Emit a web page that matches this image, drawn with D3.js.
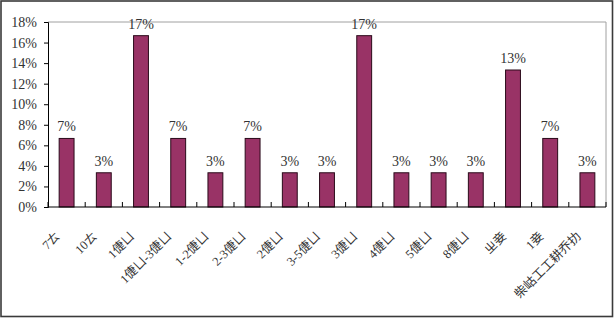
<!DOCTYPE html>
<html><head><meta charset="utf-8">
<script src="https://cdn.jsdelivr.net/npm/d3@7"></script>
<style>body{margin:0;background:#fff}svg{display:block}</style>
</head><body>
<script>
const categories = ["7ㄊ","10ㄊ","1倢ㄩ","1倢ㄩ-3倢ㄩ","1-2倢ㄩ","2-3倢ㄩ","2倢ㄩ","3-5倢ㄩ","3倢ㄩ","4倢ㄩ","5倢ㄩ","8倢ㄩ","ㄓ妾","1妾","柴岵工工耕乔扐"];
const values = [6.67,3.33,16.67,6.67,3.33,6.67,3.33,3.33,16.67,3.33,3.33,3.33,13.33,6.67,3.33];
const valueLabels = ["7%","3%","17%","7%","3%","7%","3%","3%","17%","3%","3%","3%","13%","7%","3%"];
const yTicks = [0,2,4,6,8,10,12,14,16,18];

const W = 614, H = 318;
const m = {left:48, right:8, top:22, bottom:111};
const serif = "Liberation Serif, DejaVu Serif, serif";
const svg = d3.select("body").append("svg").attr("width",W).attr("height",H);

svg.append("rect").attr("x",1).attr("y",1).attr("width",W-2.5).attr("height",H-2.5)
  .attr("fill","#fff").attr("stroke","#3a3a3a").attr("stroke-width",1.6);

const x = d3.scaleBand().domain(categories).range([m.left, W-m.right]).paddingInner(0.6).paddingOuter(0.3);
const y = d3.scaleLinear().domain([0,18]).range([H-m.bottom, m.top]);

svg.append("path").attr("d",`M${m.left},${m.top}H${W-m.right}V${H-m.bottom}`)
  .attr("fill","none").attr("stroke","#a0a0a0").attr("stroke-width",1);

svg.selectAll("rect.bar").data(values).join("rect").attr("class","bar")
  .attr("x",(d,i)=>x(categories[i])).attr("width",x.bandwidth())
  .attr("y",d=>y(d)).attr("height",d=>y(0)-y(d))
  .attr("fill","#993366").attr("stroke","#2a0a1a").attr("stroke-width",1);

svg.selectAll("text.vl").data(values).join("text").attr("class","vl")
  .attr("x",(d,i)=>x(categories[i])+x.bandwidth()/2).attr("y",d=>y(d)-7)
  .attr("text-anchor","middle").attr("font-family",serif).attr("font-size",14)
  .attr("fill","#333").text((d,i)=>valueLabels[i]);

const ya = svg.append("g").attr("transform",`translate(${m.left},0)`)
  .call(d3.axisLeft(y).tickValues(yTicks).tickSize(4).tickFormat(d=>d+"%"));
ya.select(".domain").attr("stroke","#000");
ya.selectAll("line").attr("stroke","#000");
ya.selectAll("text").attr("font-family",serif).attr("font-size",14).attr("fill","#333").attr("dx",-4);

const xa = svg.append("g").attr("transform",`translate(0,${H-m.bottom})`);
xa.append("line").attr("x1",m.left).attr("x2",W-m.right).attr("stroke","#000");
const bounds = d3.range(categories.length+1).map(i=>m.left + i*(W-m.left-m.right)/categories.length);
xa.selectAll("line.t").data(bounds).join("line").attr("class","t")
  .attr("x1",d=>d).attr("x2",d=>d).attr("y1",0).attr("y2",-5).attr("stroke","#000");

svg.selectAll("text.xl").data(categories).join("text").attr("class","xl")
  .attr("transform",d=>`translate(${x(d)+x.bandwidth()/2-9},${H-m.bottom+27}) rotate(-45)`)
  .attr("text-anchor","end").attr("dy","0.35em")
  .attr("font-family","Liberation Serif, Noto Sans CJK TC, serif")
  .attr("font-size",12.5).attr("fill","#333").text(d=>d);
</script>
</body></html>
